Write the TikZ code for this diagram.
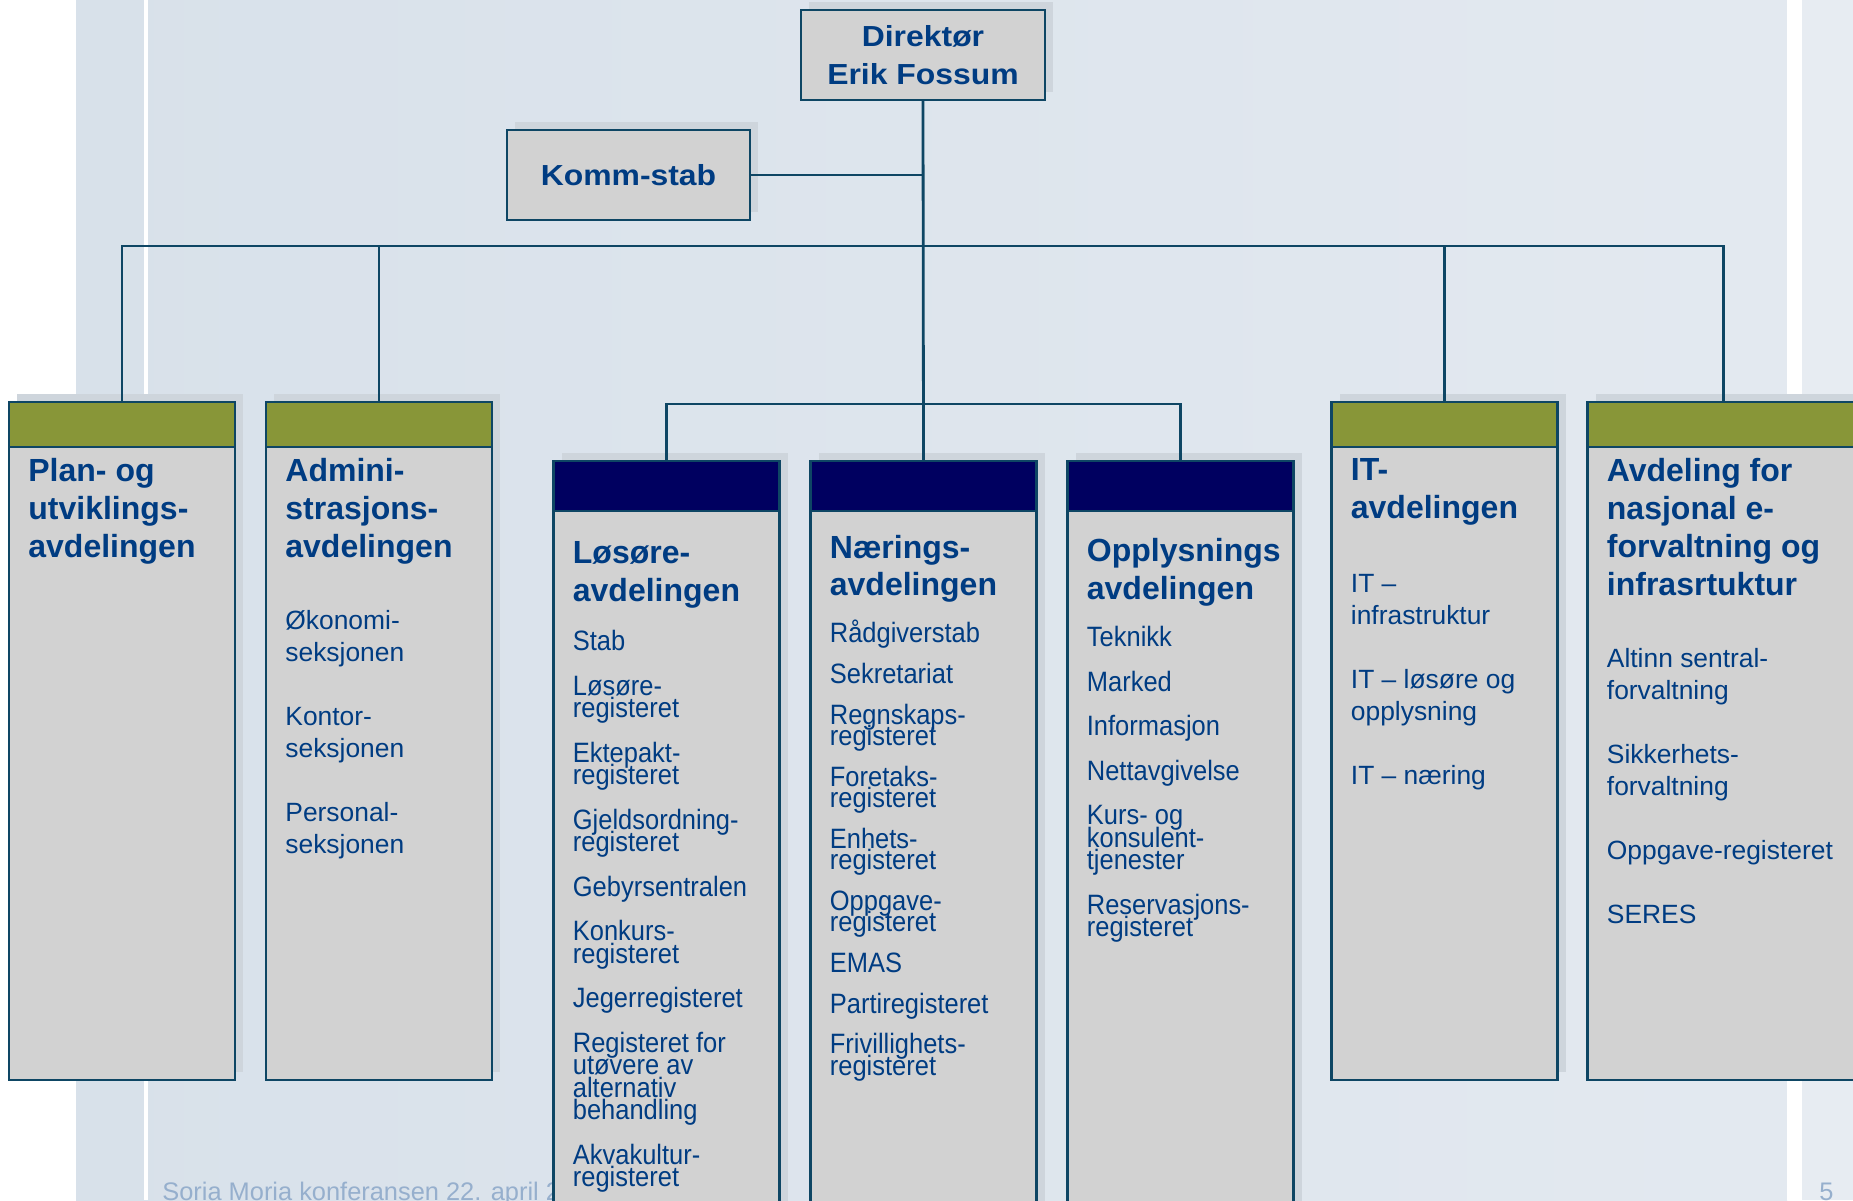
\documentclass[tikz,border=0pt]{standalone}
\usepackage{fontspec}
\setmainfont{Liberation Sans}
\newfontfamily\narrowfam[FakeStretch=0.91]{Liberation Sans}
\newfontfamily\widefam[FakeStretch=1.1]{Liberation Sans}
\usepackage{xcolor}
\usetikzlibrary{positioning,shadows}
\definecolor{linecol}{RGB}{14,70,100}
\definecolor{textblue}{RGB}{0,60,130}
\definecolor{boxgray}{RGB}{210,210,210}
\definecolor{headgreen}{RGB}{136,150,56}
\definecolor{headnavy}{RGB}{0,0,96}
\definecolor{shadecol}{RGB}{206,213,220}
\definecolor{bgleft}{RGB}{216,225,234}
\definecolor{bgright}{RGB}{227,233,240}
\definecolor{bgfar}{RGB}{231,236,242}
\definecolor{footcol}{RGB}{150,175,205}
\newcommand{\topfont}{\widefam\fontsize{14.5pt}{19pt}\selectfont\bfseries}
\newcommand{\headfont}{\fontsize{16pt}{19pt}\selectfont\bfseries}
\newcommand{\naerheadfont}{\fontsize{16pt}{18.3pt}\selectfont\bfseries}
\newcommand{\listfont}{\fontsize{13.2pt}{16pt}\selectfont}
\newcommand{\tightfont}{\narrowfam\fontsize{14pt}{11.2pt}\selectfont\lineskiplimit=-50pt}
\newcommand{\tighterfont}{\narrowfam\fontsize{14pt}{10.6pt}\selectfont\lineskiplimit=-50pt}
\tikzset{
	conn/.style = {draw=linecol, line width=1.4pt},
	unitbox/.style = {draw=linecol, line width=1.4pt, fill=boxgray, inner sep=0, outer sep=0,
		general shadow={fill=shadecol, shadow xshift=4pt, shadow yshift=4pt}},
	topbox/.style = {unitbox, align=center, text=textblue, font=\topfont},
	deptbox/.style = {unitbox, minimum width=113pt, minimum height=339pt, anchor=north},
	sectbox/.style = {unitbox, minimum width=113pt, minimum height=400pt, anchor=north},
	greenhead/.style = {draw=linecol, line width=1.4pt, fill=headgreen, inner sep=0, outer sep=0, minimum width=113pt, minimum height=22.5pt, anchor=north},
	navyhead/.style = {draw=linecol, line width=1.4pt, fill=headnavy, inner sep=0, outer sep=0, minimum width=113pt, minimum height=25pt, anchor=north},
	headtext/.style = {text=textblue, font=\headfont, align=left, inner sep=0},
	listtext/.style = {text=textblue, font=\listfont, align=left, inner sep=0},
	tightlist/.style = {text=textblue, font=\tightfont, align=left, inner sep=0},
	tighterlist/.style = {text=textblue, font=\tighterfont, align=left, inner sep=0},
	foot/.style = {text=footcol, font=\fontsize{12.7pt}{15pt}\selectfont, inner sep=0}
}
\begin{document}
\begin{tikzpicture}[x=0.5pt, y=-0.5pt]
	\useasboundingbox (0,0) rectangle (1853,1200);
	\clip (0,0) rectangle (1853,1200);
	% background
	\fill[white] (0,0) rectangle (1853,1200);
	\shade[left color=bgleft, right color=bgright] (76,0) rectangle (1787,1200);
	\fill[white] (144,0) rectangle (148,1200);
	\fill[white] (1787,0) rectangle (1802,1200);
	\fill[bgfar] (1802,0) rectangle (1853,1200);
	\node[foot, anchor=base west] (footer) at (162,1200) {Soria Moria konferansen 22. april 20};
	\node[foot, anchor=base west] (pageno) at (1819,1200) {5};
	
	% leader and staff
	\node[topbox, minimum width=122pt, minimum height=45pt] (dir) at (923,55) {Direktør\\Erik Fossum};
	\node[topbox, minimum width=121.5pt, minimum height=45pt] (komm) at (628.5,175) {Komm-stab};
	
	% departments
	\node[deptbox] (plan) at (122,402) {};
	\node[deptbox, right=15.5pt of plan] (adm) {};
	\node[deptbox] (it) at (1444.5,402) {};
	\node[deptbox, minimum width=136pt, right=15pt of it] (avd) {};
	\node[greenhead] (planhead) at (plan.north) {};
	\node[greenhead] (admhead) at (adm.north) {};
	\node[greenhead] (ithead) at (it.north) {};
	\node[greenhead, minimum width=136pt] (avdhead) at (avd.north) {};
	
	\node[sectbox] (naer) at (923.5,461) {};
	\node[sectbox, left=15.5pt of naer] (los) {};
	\node[sectbox, right=15.5pt of naer] (oppl) {};
	\node[navyhead] (loshead) at (los.north) {};
	\node[navyhead] (naerhead) at (naer.north) {};
	\node[navyhead] (opplhead) at (oppl.north) {};
	
	% texts
	\node[headtext, below right=5.5pt and 9.5pt of planhead.south west] (plantitle) {Plan- og\\utviklings-\\avdelingen};
	
	\node[headtext, below right=5.5pt and 9.5pt of admhead.south west] (admtitle) {Admini-\\strasjons-\\avdelingen};
	\node[listtext, below right=81.5pt and 9.5pt of admhead.south west] (admlist) {Økonomi-\\seksjonen\\[16pt]Kontor-\\seksjonen\\[16pt]Personal-\\seksjonen};
	
	\node[headtext, below right=15pt and 9.5pt of loshead.south west] (lostitle) {Løsøre-\\avdelingen};
	\node[tightlist, below right=59.5pt and 9.5pt of loshead.south west] (loslist) {Stab\\[11.1pt]Løsøre-\\registeret\\[11.1pt]Ektepakt-\\registeret\\[11.1pt]Gjeldsordning-\\registeret\\[11.1pt]Gebyrsentralen\\[11.1pt]Konkurs-\\registeret\\[11.1pt]Jegerregisteret\\[11.1pt]Registeret for\\utøvere av\\alternativ\\behandling\\[11.1pt]Akvakultur-\\registeret};
	
	\node[headtext, font=\naerheadfont, below right=12.1pt and 9.5pt of naerhead.south west] (naertitle) {Nærings-\\avdelingen};
	\node[tighterlist, below right=54.4pt and 9.5pt of naerhead.south west] (naerlist) {Rådgiverstab\\[9.8pt]Sekretariat\\[9.8pt]Regnskaps-\\registeret\\[9.8pt]Foretaks-\\registeret\\[9.8pt]Enhets-\\registeret\\[9.8pt]Oppgave-\\registeret\\[9.8pt]EMAS\\[9.8pt]Partiregisteret\\[9.8pt]Frivillighets-\\registeret};
	
	\node[headtext, below right=13.3pt and 9.5pt of opplhead.south west] (oppltitle) {Opplysnings\\avdelingen};
	\node[tightlist, below right=57.4pt and 9.5pt of opplhead.south west] (oppllist) {Teknikk\\[11.1pt]Marked\\[11.1pt]Informasjon\\[11.1pt]Nettavgivelse\\[11.1pt]Kurs- og\\konsulent-\\tjenester\\[11.1pt]Reservasjons-\\registeret};
	
	\node[headtext, below right=5.5pt and 9.5pt of ithead.south west] (ittitle) {IT-\\avdelingen};
	\node[listtext, below right=63.5pt and 9.5pt of ithead.south west] (itlist) {IT –\\infrastruktur\\[16pt]IT – løsøre og\\opplysning\\[16pt]IT – næring};
	
	\node[headtext, below right=5.5pt and 9.5pt of avdhead.south west] (avdtitle) {Avdeling for\\nasjonal e-\\forvaltning og\\infrasrtuktur};
	\node[listtext, below right=100.6pt and 9.5pt of avdhead.south west] (avdlist) {Altinn sentral-\\forvaltning\\[16pt]Sikkerhets-\\forvaltning\\[16pt]Oppgave-registeret\\[16pt]SERES};
	
	% connectors
	\coordinate (bus) at (923,246);
	\coordinate (subbus) at (923,404);
	\draw[conn] (dir.south) -- (naerhead.north);
	\draw[conn] (komm.east) -- (komm.east -| dir.south);
	\draw[conn] (planhead.north) |- (bus) -| (avdhead.north);
	\draw[conn] (admhead.north) -- (admhead.north |- bus);
	\draw[conn] (ithead.north) -- (ithead.north |- bus);
	\draw[conn] (loshead.north) |- (subbus) -| (opplhead.north);
\end{tikzpicture}
\end{document}
